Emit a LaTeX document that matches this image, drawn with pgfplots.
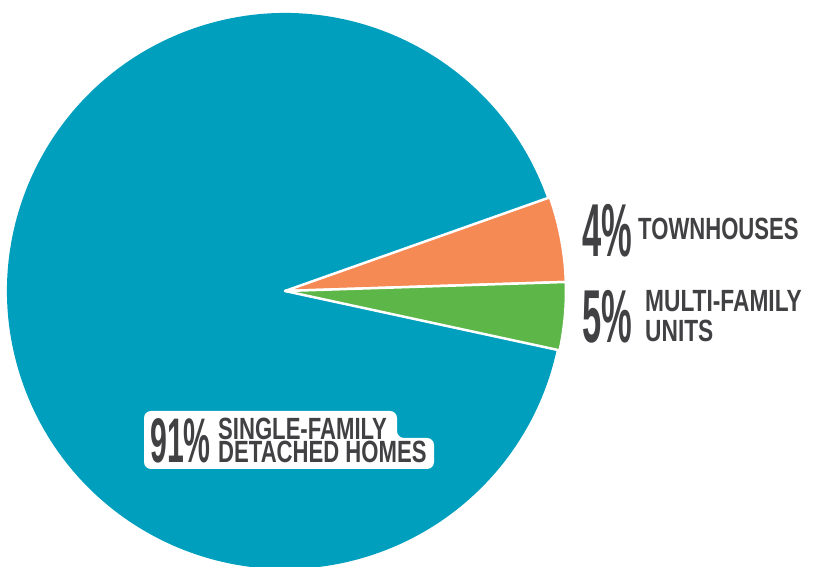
\documentclass[border=0pt]{standalone}
\usepackage{pgfplots}
\pgfplotsset{compat=1.18}
\usepackage{pgfplotstable}
\usepackage{fontspec}
\setmainfont{Liberation Sans}
\definecolor{pieblue}{HTML}{009FBD}
\definecolor{pieorange}{HTML}{F58A54}
\definecolor{piegreen}{HTML}{5CB648}
\definecolor{txt}{HTML}{414042}
\pgfplotstableread{
label value
multi 3.9
town 4.9
single 91.2
}\piedata
\pgfplotstablegetelem{0}{value}\of\piedata \let\vA\pgfplotsretval
\pgfplotstablegetelem{1}{value}\of\piedata \let\vB\pgfplotsretval
\pgfplotstablegetelem{2}{value}\of\piedata \let\vC\pgfplotsretval
\pgfmathsetmacro{\aS}{-12.2}
\pgfmathsetmacro{\aA}{\aS+3.6*\vA}
\pgfmathsetmacro{\aB}{\aA+3.6*\vB}
\pgfmathsetmacro{\aC}{\aB+3.6*\vC}
\newcommand{\bignum}[1]{\scalebox{0.46}[1]{\fontsize{75}{75}\selectfont\bfseries #1}}
\newcommand{\sm}[2][0.72]{\scalebox{#1}[1]{\fontsize{30.7}{30.7}\selectfont\bfseries #2}}
\begin{document}
\begin{tikzpicture}
\path[use as bounding box] (0,0) rectangle (814pt,567pt);
\begin{axis}[at={(0,0)},anchor=south west,width=814pt,height=567pt,scale only axis,
  xmin=0,xmax=814,ymin=0,ymax=567,hide axis,clip=false]
\fill[pieblue] (axis cs:285,276) -- ++(\aB:278pt) arc[start angle=\aB, end angle=\aC, radius=278pt] -- cycle;
\filldraw[fill=pieorange, draw=white, line width=2.5pt, line join=round] (axis cs:285,276) -- ++(\aA:281pt) arc[start angle=\aA, end angle=\aB, radius=281pt] -- cycle;
\filldraw[fill=piegreen, draw=white, line width=2.5pt, line join=round] (axis cs:285,276) -- ++(\aS:281pt) arc[start angle=\aS, end angle=\aA, radius=281pt] -- cycle;
% white halo behind the single-family label
\fill[white, rounded corners=7pt] (axis cs:144,156) -- (axis cs:397,156) -- (axis cs:397,129) -- (axis cs:434,129) -- (axis cs:434,98) -- (axis cs:144,98) -- cycle;
\node[anchor=base west, inner sep=0, text=txt] at (axis cs:582,310) {\bignum{4\%}};
\node[anchor=base west, inner sep=0, text=txt] at (axis cs:638,327) {\sm{TOWNHOUSES}};
\node[anchor=base west, inner sep=0, text=txt] at (axis cs:582,224) {\bignum{5\%}};
\node[anchor=base west, inner sep=0, text=txt, text depth=0pt] at (axis cs:645,255) {\sm[0.74]{MULTI-FAMILY}};
\node[anchor=base west, inner sep=0, text=txt, text depth=0pt] at (axis cs:645,225) {\sm[0.74]{UNITS}};
\node[anchor=base west, inner sep=0, text=txt] at (axis cs:150,104) {\scalebox{0.48}[1]{\fontsize{63}{63}\selectfont\bfseries 91\%}};
\node[anchor=base west, inner sep=0, text=txt, text depth=0pt] at (axis cs:218,127) {\sm{SINGLE-FAMILY}};
\node[anchor=base west, inner sep=0, text=txt, text depth=0pt] at (axis cs:218,104) {\sm{DETACHED HOMES}};
\end{axis}
\end{tikzpicture}
\end{document}
